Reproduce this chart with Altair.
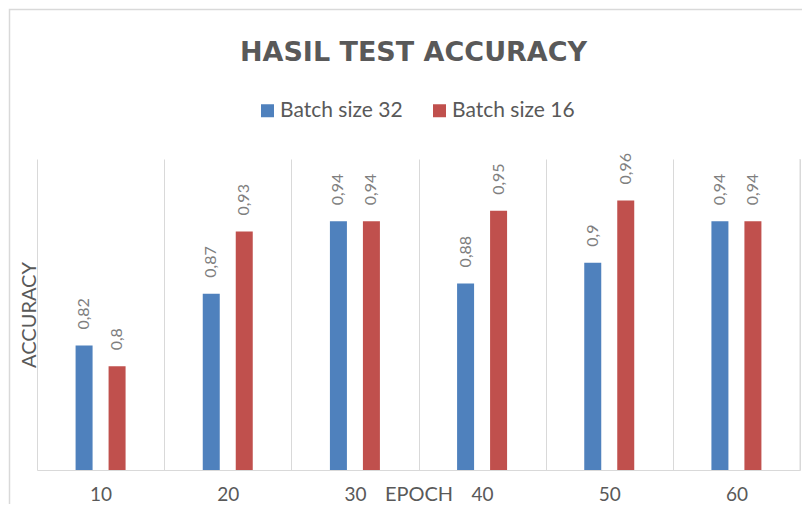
import altair as alt
import pandas as pd

epochs = ["10", "20", "30", "40", "50", "60"]
batch32 = [0.82, 0.87, 0.94, 0.88, 0.90, 0.94]
batch16 = [0.80, 0.93, 0.94, 0.95, 0.96, 0.94]
series = ["Batch size 32", "Batch size 16"]
colors = ["#4F81BD", "#C0504D"]

rows = []
for e, a, b in zip(epochs, batch32, batch16):
    rows.append({"epoch": e, "series": series[0], "acc": a, "label": str(a).replace(".", ",")})
    rows.append({"epoch": e, "series": series[1], "acc": b, "label": str(b).replace(".", ",")})
df = pd.DataFrame(rows)

W, H = 763, 311
GREY = "#595959"
FONT = "Lato"

x = alt.X(
    "epoch:N",
    sort=epochs,
    scale=alt.Scale(paddingInner=0, paddingOuter=0),
    axis=alt.Axis(
        title="EPOCH",
        labelAngle=0,
        tickBand="extent",
        grid=True,
        gridColor="#D9D9D9",
        gridWidth=1,
        domainColor="#D9D9D9",
        domainWidth=1,
        ticks=False,
        labelFont=FONT,
        labelFontSize=19,
        labelColor=GREY,
        labelBaseline="alphabetic",
        labelPadding=30,
        titleFont=FONT,
        titleFontSize=20,
        titleFontWeight="normal",
        titleColor=GREY,
        titleBaseline="alphabetic",
        titleY=30,
    ),
)
xo = alt.XOffset("series:N", sort=series,
                 scale=alt.Scale(paddingInner=0, paddingOuter=0.927))
y = alt.Y(
    "acc:Q",
    scale=alt.Scale(domain=[0.7, 1.0], nice=False, zero=False),
    axis=alt.Axis(
        title="ACCURACY",
        labels=False,
        ticks=False,
        grid=False,
        domain=False,
        titleFont=FONT,
        titleFontSize=20,
        titleFontWeight="normal",
        titleColor=GREY,
        titleBaseline="alphabetic",
        titleX=-1.5,
        titleY=H / 2,
        titleAngle=270,
        titleAlign="center",
    ),
)

bars = alt.Chart(df).mark_bar(size=17, clip=True).encode(
    x=x,
    xOffset=xo,
    y=y,
    color=alt.Color(
        "series:N",
        sort=series,
        scale=alt.Scale(domain=series, range=colors),
        legend=alt.Legend(
            title=None,
            orient="none",
            direction="horizontal",
            legendX=220,
            legendY=-59,
            symbolType="square",
            symbolSize=169,
            symbolStrokeWidth=0,
            labelFont=FONT,
            labelFontSize=21,
            labelColor=GREY,
            labelOffset=2,
            columnPadding=26,
            padding=0,
        ),
    ),
)

labels = alt.Chart(df).mark_text(
    angle=270, align="left", baseline="middle", yOffset=-16,
    font=FONT, fontSize=16, color="#7F7F7F",
).encode(x=x, xOffset=xo, y=y, text="label:N")

frame_df = pd.DataFrame({"k": [0]})
frame = alt.Chart(frame_df).mark_rect(fillOpacity=0, stroke="#D9D9D9", strokeWidth=1.5).encode(
    x=alt.value(-27.5), x2=alt.value(W + 100), y=alt.value(-149.5), y2=alt.value(H + 100)
)
right_line = alt.Chart(frame_df).mark_rule(color="#D9D9D9", strokeWidth=1).encode(
    x=alt.value(W), y=alt.value(0), y2=alt.value(H)
)

chart = alt.layer(frame, right_line, bars, labels).properties(
    width=W,
    height=H,
    padding={"left": 29, "top": 151, "right": 2, "bottom": 34},
    autosize=alt.AutoSizeParams(type="none"),
    title=alt.TitleParams(
        "HASIL TEST ACCURACY",
        font="DejaVu Sans",
        fontSize=27,
        fontWeight="bold",
        color=GREY,
        anchor="middle",
        baseline="alphabetic",
        offset=-79,
        dx=-5,
    ),
).configure_view(stroke=None)

chart.save("out.html", embed_options={"renderer": "svg", "actions": False})
